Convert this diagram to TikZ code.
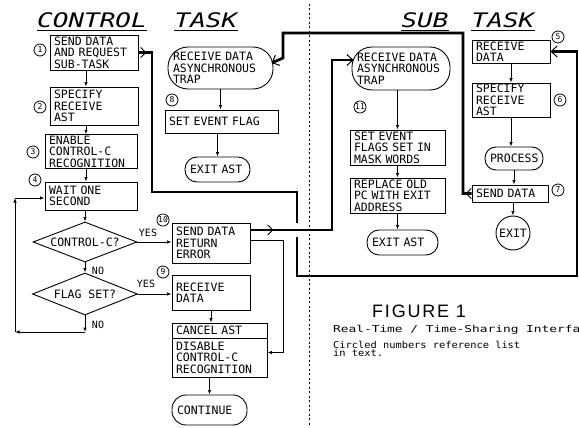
\documentclass[tikz,border=0pt]{standalone}
\usepackage{fontspec}
\newfontfamily\plotf{DejaVu Sans Mono}
\newfontfamily\capf[LetterSpace=10]{Liberation Sans}
\usetikzlibrary{arrows.meta,shapes.geometric,decorations.markings,calc}
\tikzset{
  every node/.style={font=\plotf\fontsize{11.5}{11.5}\selectfont},
  box/.style={draw, line width=0.9pt, align=left, inner xsep=4pt, inner ysep=1pt},
  term/.style={draw, line width=0.9pt, rectangle, align=left, inner xsep=5pt, inner ysep=1pt},
  dia/.style={draw, line width=0.9pt, diamond, inner sep=0pt},
  cnum/.style={draw, circle, line width=0.8pt, inner sep=0.3pt, minimum size=12pt, font=\plotf\fontsize{8}{8}\selectfont},
  lbl/.style={font=\plotf\fontsize{10}{10}\selectfont, inner sep=1pt},
  ttl/.style={font=\plotf\itshape\fontsize{20}{20}\selectfont, inner sep=0pt},
  flow/.style={line width=0.8pt, -{Latex[length=4.5pt,width=3.5pt]}},
  bus/.style={line width=2.8pt, -{Straight Barb[line width=1pt,length=6pt,width=11pt]}},
  markat/.style={postaction={decorate, decoration={markings, mark=at position #1 with {\arrow{Straight Barb[line width=1pt,length=5pt,width=10pt]}}}}},
  divider/.style={line width=0.6pt, dash pattern=on 2pt off 2.5pt},
}
\begin{document}
\begin{tikzpicture}[x=1pt,y=-1pt]
\useasboundingbox (0,0) rectangle (579,428);
% titles
\node[ttl] (tC) at (92,20) {\scalebox{1.3}[1]{CONTROL}};
\node[ttl] (tT1) at (206,20) {\scalebox{1.3}[1]{TASK}};
\node[ttl] (tS) at (425,20) {\scalebox{1.3}[1]{SUB}};
\node[ttl] (tT2) at (503,20) {\scalebox{1.3}[1]{TASK}};
\foreach \n in {tC,tT1,tS,tT2} \draw[line width=1pt] ($(\n.south west)+(0,3)$) -- ($(\n.south east)+(0,3)$);
% divider
\coordinate (dtop) at (309,4);
\coordinate (dbot) at (309,426);
\draw[divider] (dtop) -- (dbot);
% control task main column
\node[box, text width=80pt, minimum height=35pt] (b1) at (94,52.5) {SEND DATA\\AND REQUEST\\SUB-TASK};
\node[box, text width=80pt, minimum height=38pt] (b2) at (94,106) {SPECIFY\\RECEIVE\\AST};
\node[box, text width=84pt, minimum height=33pt] (b3) at (91,151.5) {ENABLE\\CONTROL-C\\RECOGNITION};
\node[box, text width=84pt, minimum height=28pt] (b4) at (91,196) {WAIT ONE\\SECOND};
\node[dia, minimum width=104pt, minimum height=40pt] (d1) at (85,242) {};
\node[inner sep=0pt] (d1t) at (d1.center) {CONTROL-C?};
\node[dia, minimum width=105pt, minimum height=42pt] (d2) at (85,294) {};
\node[inner sep=0pt] (d2t) at (d2.center) {FLAG SET?};
\node[box, text width=70pt, minimum height=40pt] (b10) at (211,243) {SEND DATA\\RETURN\\ERROR};
\node[box, text width=70pt, minimum height=35pt] (b9) at (211,292.5) {RECEIVE\\DATA};
\node[box, text width=87pt, minimum height=15pt] (ca) at (219.5,330.5) {CANCEL AST};
\node[box, text width=87pt, minimum height=39pt] (cb) at (219.5,357.5) {DISABLE\\CONTROL-C\\RECOGNITION};
\node[term, text width=65pt, minimum height=30pt, rounded corners=14pt] (cont) at (209.5,410) {CONTINUE};
% control task AST column
\node[term, text width=95pt, minimum height=42pt, rounded corners=20pt] (t1) at (220.5,68) {RECEIVE DATA\\ASYNCHRONOUS\\TRAP};
\node[box, text width=105pt, minimum height=23pt] (sf) at (221.5,121.5) {SET EVENT FLAG};
\node[term, text width=55pt, minimum height=25pt, rounded corners=12pt] (ea1) at (217.5,169.5) {EXIT AST};
% sub task AST column
\node[term, text width=88pt, minimum height=43pt, rounded corners=20pt] (t2) at (401,68.5) {RECEIVE DATA\\ASYNCHRONOUS\\TRAP};
\node[box, text width=87pt, minimum height=35pt] (fl) at (397.5,147.5) {SET EVENT\\FLAGS SET IN\\MASK WORDS};
\node[box, text width=87pt, minimum height=35pt] (rp) at (397.5,195.5) {REPLACE OLD\\PC WITH EXIT\\ADDRESS};
\node[term, text width=61pt, minimum height=25pt, rounded corners=12pt] (ea2) at (402.5,242.5) {EXIT AST};
% sub task main column
\node[box, text width=70pt, minimum height=23pt] (r5) at (511,51.5) {RECEIVE\\DATA};
\node[box, text width=70pt, minimum height=34pt] (r6) at (511,100) {SPECIFY\\RECEIVE\\AST};
\node[term, text width=48pt, minimum height=23pt, rounded corners=11pt] (pr) at (514,158.5) {PROCESS};
\node[box, text width=68pt, minimum height=17pt] (s7) at (510,193.5) {SEND DATA};
\node[draw, circle, line width=0.9pt, minimum size=34pt, inner sep=0pt] (ex) at (513,233) {EXIT};
% circled numbers
\node[cnum] (c1) at (40,50) {1};
\node[cnum] (c2) at (40,107) {2};
\node[cnum] (c3) at (33,152) {3};
\node[cnum] (c4) at (35,180) {4};
\node[cnum] (c5) at (558,37) {5};
\node[cnum] (c6) at (560,100) {6};
\node[cnum] (c7) at (558,190) {7};
\node[cnum] (c8) at (172,100) {8};
\node[cnum] (c9) at (163,272) {9};
\node[cnum] (c10) at (163,220) {10};
\node[cnum] (c11) at (360,107) {11};
% labels
\node[lbl] (y1) at (148,233) {YES};
\node[lbl] (y2) at (146,284) {YES};
\node[lbl] (n1l) at (98,271) {NO};
\node[lbl] (n2l) at (98,325) {NO};
% thin connectors
\coordinate (ax) at (86,0);
\draw[flow] (b1.south -| ax) -- (b2.north -| ax);
\draw[flow] (b2.south -| ax) -- (b3.north -| ax);
\draw[flow] (b3.south -| ax) -- (b4.north -| ax);
\draw[flow] (b4.south -| d1.north) -- (d1.north);
\draw[flow] (d1.south) -- (d2.north);
\draw[flow] (d1.east) -- (b10.west |- d1.east);
\draw[flow] (d2.east) -- (b9.west |- d2.east);
\coordinate (n1) at (85,332);
\coordinate (n2) at (15,332);
\coordinate (n3) at (15,198);
\draw[flow] (d2.south) -- (n1);
\draw[flow] (n1) -- (n2);
\draw[flow] (n2) -- (n3);
\draw[flow] (n3) -- (n3 -| b4.west);
\draw[flow] (b9.south) -- (ca.north -| b9.south);
\draw[flow] (cb.south -| cont.north) -- (cont.north);
\coordinate (k1) at (283,240);
\draw[flow] (k1 -| b10.east) -- (k1) |- ($(cb.east)+(0,-5)$);
\draw[flow] (t1.south) -- (sf.north -| t1.south);
\draw[flow] (sf.south -| ea1.north) -- (ea1.north);
\draw[flow] (t2.south -| fl.north) -- (fl.north);
\draw[flow] (fl.south) -- (rp.north);
\draw[flow] (rp.south) -- (rp.south |- ea2.north);
\draw[flow] (r5.south) -- (r6.north);
\draw[flow] (r6.south) -- (r6.south |- pr.north);
\draw[flow] (pr.south) -- (pr.south |- s7.north);
\draw[flow] (s7.south -| ex.north) -- (ex.north);
% thick connectors
\coordinate (L1a) at (152,192);
\coordinate (L1b) at (297,276);
\coordinate (L1c) at (577,276);
\draw[bus, markat=8pt] (b1.east) -| (L1a) -| (L1b) -- (L1c) |- (r5.east);
\coordinate (L2) at (332,230);
\coordinate (cross) at (297,230);
\fill[white] ($(cross)+(-3,-7)$) rectangle ($(cross)+(3,7)$);
\draw[bus, markat=23pt] (L2 -| b10.east) -- (L2) |- ($(t2.west)+(2,-8.5)$);
\coordinate (L3a) at (463,33);
\coordinate (L3b) at (283,58);
\draw[bus, markat=6pt] (s7.west) -| (L3a) -| (L3b) -- ($(t1.east)+(-2,-5)$);
% figure caption
\node[anchor=west, inner sep=0pt, font=\capf\fontsize{18}{18}\selectfont] (fig) at (372,311) {FIGURE 1};
\node[anchor=west, inner sep=0pt, font=\plotf\fontsize{9.5}{9.5}\selectfont] (cap1) at (333,330) {\scalebox{1.35}[1]{Real-Time / Time-Sharing Interfa}};
\node[anchor=north west, inner sep=0pt, align=left, font=\plotf\fontsize{9.5}{8}\selectfont] (cap2) at (333,341) {\scalebox{1.09}[1]{Circled numbers reference list}\\\scalebox{1.09}[1]{in text.}};
\end{tikzpicture}
\end{document}
